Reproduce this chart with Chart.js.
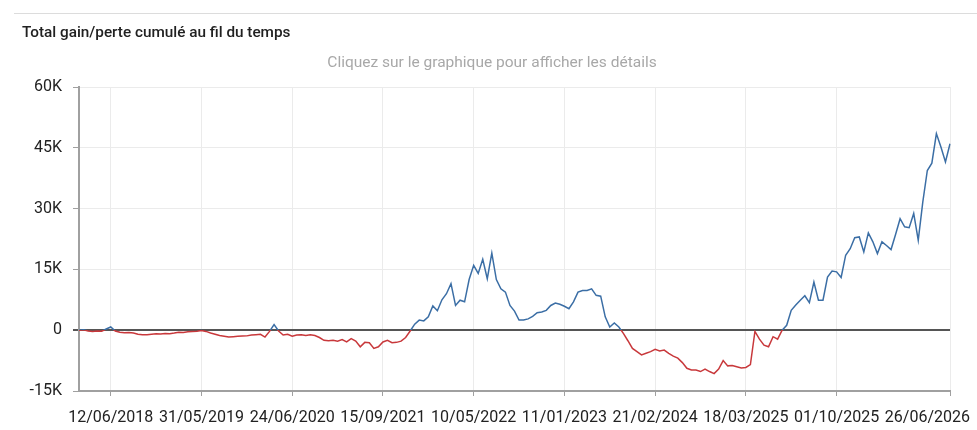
<!DOCTYPE html>
<html>
<head>
<meta charset="utf-8">
<script src="https://cdn.jsdelivr.net/npm/chart.js@4.4.1/dist/chart.umd.min.js"></script>
<style>
  body { margin: 0; background: #fff; }
  .wrap { position: relative; width: 977px; height: 430px; }
  .rule { position: absolute; left: 14px; right: 0; top: 13px; border-top: 1px solid #dcdcdc; }
  .title { position: absolute; left: 22px; top: 23px; line-height: 20px; font: 500 15.3px Roboto, sans-serif; color: #212121; }
  .hint { position: absolute; left: 0; width: 984px; top: 53px; line-height: 20px; text-align: center; font: 15.5px Roboto, sans-serif; color: #a8a8a8; }
  canvas { position: absolute; left: 0; top: 0; }
</style>
</head>
<body>
<div class="wrap">
  <div class="rule"></div>
  <canvas id="gainChart" width="977" height="430"></canvas>
  <div class="title">Total gain/perte cumulé au fil du temps</div>
  <div class="hint">Cliquez sur le graphique pour afficher les détails</div>
</div>
<script>
// cumulative gain/loss, one value per sample point
const gainValues = [
  0, 100, -200, -300, -200, -250, 300, 800, -200, -500,
  -600, -550, -700, -1000, -1100, -1150, -1000, -850, -950, -800,
  -850, -700, -500, -550, -400, -300, -250, -50, -300, -700,
  -1000, -1300, -1500, -1700, -1600, -1500, -1450, -1400, -1200, -1100,
  -1000, -1700, -300, 1400, -200, -1200, -1000, -1500, -1200, -1100,
  -1300, -1150, -1300, -1800, -2500, -2600, -2500, -2700, -2300, -2900,
  -2100, -2700, -4100, -3000, -3100, -4500, -4100, -2900, -2500, -3100,
  -3000, -2700, -1800, -200, 1500, 2500, 2300, 3300, 6000, 4800,
  7500, 9000, 11500, 6100, 7400, 7000, 12500, 16000, 14000, 17500,
  12700, 19000, 12500, 10200, 9400, 6100, 4700, 2500, 2500, 2800,
  3400, 4300, 4500, 4900, 6100, 6700, 6400, 5900, 5300, 7000,
  9400, 9800, 9800, 10200, 8600, 8400, 3300, 800, 1800, 800,
  -800, -2600, -4500, -5300, -6100, -5700, -5300, -4700, -5100, -4900,
  -5700, -6400, -6900, -8000, -9400, -9800, -9800, -10200, -9600, -10200,
  -10700, -9600, -7500, -8800, -8700, -9000, -9300, -9200, -8500, -300,
  -2200, -3700, -4100, -1600, -2200, 0, 1200, 4900, 6200, 7400,
  8500, 6800, 11900, 7400, 7400, 13100, 14600, 14400, 13000, 18500,
  20100, 22800, 23000, 19300, 24000, 21800, 18900, 21800, 20900, 19900,
  23600, 27500, 25500, 25300, 28800, 22200, 31600, 39400, 41200, 48500,
  45200, 41500, 46000
];

// which sample points carry a date label on the x axis
const tickIndex = [7, 27, 47, 67, 87, 107, 127, 147, 167, 192];
const tickLabels = ["12/06/2018", "31/05/2019", "24/06/2020", "15/09/2021", "10/05/2022",
  "11/01/2023", "21/02/2024", "18/03/2025", "01/10/2025", "26/06/2026"];

const yTicks = [-15000, 0, 15000, 30000, 45000, 60000];
const yTickLabels = ["-15K", "0", "15K", "30K", "45K", "60K"];

const BLUE = "#3b6ea5";
const RED = "#c8383b";
const lastIdx = tickIndex[tickIndex.length - 1];

function lineColor(context) {
  const chart = context.chart;
  const area = chart.chartArea;
  if (!area) return BLUE;
  const zero = chart.scales.y.getPixelForValue(0);
  const f = Math.min(Math.max((zero - area.top) / (area.bottom - area.top), 0), 1);
  const g = chart.ctx.createLinearGradient(0, area.top, 0, area.bottom);
  g.addColorStop(0, BLUE);
  g.addColorStop(f, BLUE);
  g.addColorStop(f, RED);
  g.addColorStop(1, RED);
  return g;
}

// last date label sits past the plot edge, drawn shifted left like the original
const lastLabelPlugin = {
  id: "lastLabel",
  afterDraw(chart) {
    const xs = chart.scales.x;
    const px = xs.getPixelForValue(lastIdx);
    const c = chart.ctx;
    c.save();
    c.font = "16px Roboto";
    c.fillStyle = "#222";
    c.textAlign = "right";
    c.textBaseline = "middle";
    c.fillText(tickLabels[tickLabels.length - 1], px + 20, xs.top + 5 + 12 + 9.6);
    c.restore();
  }
};

new Chart(document.getElementById("gainChart"), {
  type: "line",
  data: {
    labels: gainValues.map((_, i) => i),
    datasets: [{
      data: gainValues,
      borderColor: lineColor,
      borderWidth: 1.5,
      pointRadius: 0,
      tension: 0,
      fill: false
    }]
  },
  options: {
    responsive: false,
    animation: false,
    devicePixelRatio: 1,
    layout: { padding: { left: 22, right: 27, top: 87, bottom: 0 } },
    plugins: {
      legend: { display: false },
      tooltip: { enabled: false }
    },
    scales: {
      x: {
        type: "category",
        offset: false,
        afterFit: function (scale) { scale.height = 39; },
        border: { color: "#a0a0a0", width: 2 },
        grid: { color: "#ebebeb", tickColor: "#a0a0a0", tickLength: 5 },
        ticks: {
          autoSkip: false,
          maxRotation: 0,
          padding: 12,
          color: "#222",
          font: { family: "Roboto", size: 16 },
          callback: function (val, idx) {
            const p = tickIndex.indexOf(idx);
            if (p < 0) return null;
            if (idx === lastIdx) return "";
            return tickLabels[p];
          }
        }
      },
      y: {
        min: yTicks[0],
        max: yTicks[yTicks.length - 1],
        afterFit: function (scale) { scale.width = 57; },
        afterBuildTicks: function (scale) {
          scale.ticks = yTicks.map(v => ({ value: v }));
        },
        border: { color: "#a0a0a0", width: 2 },
        grid: {
          color: ctx => (ctx.tick && ctx.tick.value === 0 ? "#555" : "#ebebeb"),
          lineWidth: ctx => (ctx.tick && ctx.tick.value === 0 ? 2 : 1),
          tickColor: ctx => (ctx.tick && ctx.tick.value === 0 ? "#555" : "#a0a0a0"),
          tickLength: 6
        },
        ticks: {
          padding: 11,
          color: "#222",
          font: { family: "Roboto", size: 16 },
          callback: function (val) {
            const p = yTicks.indexOf(val);
            return p < 0 ? "" : yTickLabels[p];
          }
        }
      }
    }
  },
  plugins: [lastLabelPlugin]
});
</script>
</body>
</html>
